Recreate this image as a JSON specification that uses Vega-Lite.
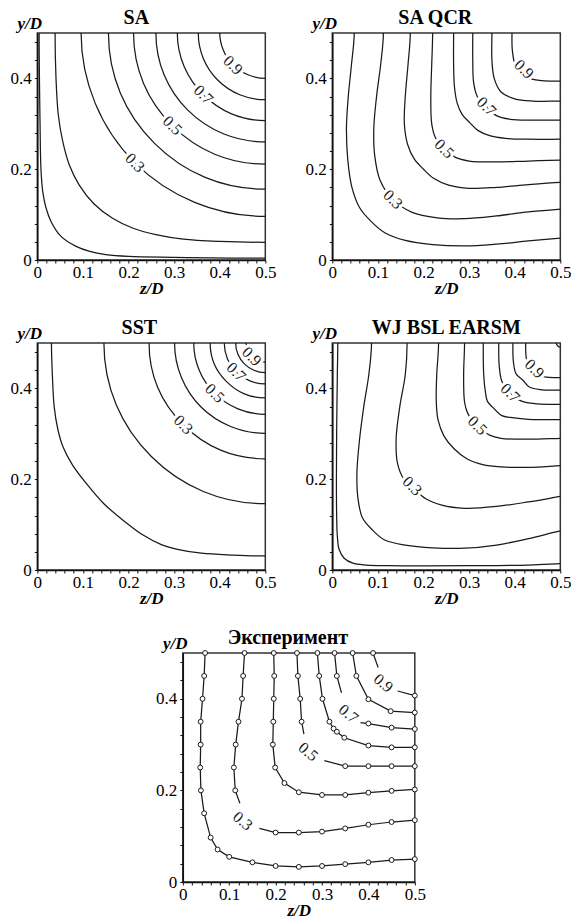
{
"$schema":"https://vega.github.io/schema/vega-lite/v6.json",
"background":"white",
"padding":{"left":9,"top":7,"right":0,"bottom":2},
"config":{
"font":"Liberation Serif",
"view":{"stroke":"#333","strokeWidth":1.5},
"axis":{"labelFont":"Liberation Serif","labelFontSize":17,"labelColor":"#000","titleFont":"Liberation Serif","titleFontSize":17,"titleFontWeight":"bold","titleFontStyle":"italic","titleColor":"#000","domainColor":"#111","domainWidth":1.5,"tickColor":"#111","tickWidth":1,"tickSize":3,"grid":false,"labelOverlap":false,"labelFlush":false,"labelPadding":1},
"axisX":{"titlePadding":0},
"axisY":{"titleAngle":0,"titleX":-8,"titleY":-5,"titleAlign":"center","titleBaseline":"alphabetic","labelPadding":3},
"title":{"font":"Liberation Serif","fontSize":20,"fontWeight":"bold","color":"#000","anchor":"middle","frame":"group","offset":-14},
"line":{"stroke":"#1a1a1a","strokeWidth":1.25}
},
"datasets":{
"lab":[
{"p":"SA","t":"0.9","z":0.429,"y":0.429},{"p":"SA","t":"0.7","z":0.364,"y":0.364},{"p":"SA","t":"0.5","z":0.296,"y":0.296},{"p":"SA","t":"0.3","z":0.214,"y":0.214},
{"p":"QCR","t":"0.9","z":0.42,"y":0.42},{"p":"QCR","t":"0.7","z":0.338,"y":0.338},{"p":"QCR","t":"0.5","z":0.245,"y":0.245},{"p":"QCR","t":"0.3","z":0.133,"y":0.133},
{"p":"SST","t":"0.9","z":0.47,"y":0.47},{"p":"SST","t":"0.7","z":0.436,"y":0.436},{"p":"SST","t":"0.5","z":0.389,"y":0.389},{"p":"SST","t":"0.3","z":0.32,"y":0.32},
{"p":"WJ","t":"0.9","z":0.443,"y":0.443},{"p":"WJ","t":"0.7","z":0.39,"y":0.39},{"p":"WJ","t":"0.5","z":0.318,"y":0.318},{"p":"WJ","t":"0.3","z":0.175,"y":0.185},
{"p":"EXP","t":"0.9","z":0.432,"y":0.434},{"p":"EXP","t":"0.7","z":0.357,"y":0.367},{"p":"EXP","t":"0.5","z":0.27,"y":0.284},{"p":"EXP","t":"0.3","z":0.129,"y":0.133}
],
"c":[
{"p":"SA","k":"0.1","i":0,"z":0.006,"y":0.7},{"p":"SA","k":"0.1","i":1,"z":0.004,"y":0.5},{"p":"SA","k":"0.1","i":2,"z":0.006,"y":0.3},{"p":"SA","k":"0.1","i":3,"z":0.008,"y":0.2},{"p":"SA","k":"0.1","i":4,"z":0.012,"y":0.15},{"p":"SA","k":"0.1","i":5,"z":0.019,"y":0.115},{"p":"SA","k":"0.1","i":6,"z":0.03,"y":0.085},{"p":"SA","k":"0.1","i":7,"z":0.052,"y":0.052},{"p":"SA","k":"0.1","i":8,"z":0.085,"y":0.03},{"p":"SA","k":"0.1","i":9,"z":0.115,"y":0.019},{"p":"SA","k":"0.1","i":10,"z":0.15,"y":0.012},{"p":"SA","k":"0.1","i":11,"z":0.2,"y":0.008},{"p":"SA","k":"0.1","i":12,"z":0.3,"y":0.006},{"p":"SA","k":"0.1","i":13,"z":0.5,"y":0.004},{"p":"SA","k":"0.1","i":14,"z":0.7,"y":0.006},
{"p":"SA","k":"0.2","i":0,"z":0.041,"y":0.6},{"p":"SA","k":"0.2","i":1,"z":0.039,"y":0.5},{"p":"SA","k":"0.2","i":2,"z":0.041,"y":0.4},{"p":"SA","k":"0.2","i":3,"z":0.046,"y":0.32},{"p":"SA","k":"0.2","i":4,"z":0.056,"y":0.26},{"p":"SA","k":"0.2","i":5,"z":0.07,"y":0.21},{"p":"SA","k":"0.2","i":6,"z":0.092,"y":0.165},{"p":"SA","k":"0.2","i":7,"z":0.124,"y":0.124},{"p":"SA","k":"0.2","i":8,"z":0.165,"y":0.092},{"p":"SA","k":"0.2","i":9,"z":0.21,"y":0.07},{"p":"SA","k":"0.2","i":10,"z":0.26,"y":0.056},{"p":"SA","k":"0.2","i":11,"z":0.32,"y":0.046},{"p":"SA","k":"0.2","i":12,"z":0.4,"y":0.041},{"p":"SA","k":"0.2","i":13,"z":0.5,"y":0.039},{"p":"SA","k":"0.2","i":14,"z":0.6,"y":0.041},
{"p":"SA","k":"0.3","i":0,"z":0.127,"y":0.655},{"p":"SA","k":"0.3","i":1,"z":0.096,"y":0.5},{"p":"SA","k":"0.3","i":2,"z":0.127,"y":0.345},{"p":"SA","k":"0.3","i":3,"z":0.214,"y":0.214},{"p":"SA","k":"0.3","i":4,"z":0.345,"y":0.127},{"p":"SA","k":"0.3","i":5,"z":0.5,"y":0.096},{"p":"SA","k":"0.3","i":6,"z":0.655,"y":0.127},
{"p":"SA","k":"0.4","i":0,"z":0.182,"y":0.632},{"p":"SA","k":"0.4","i":1,"z":0.156,"y":0.5},{"p":"SA","k":"0.4","i":2,"z":0.182,"y":0.368},{"p":"SA","k":"0.4","i":3,"z":0.257,"y":0.257},{"p":"SA","k":"0.4","i":4,"z":0.368,"y":0.182},{"p":"SA","k":"0.4","i":5,"z":0.5,"y":0.156},{"p":"SA","k":"0.4","i":6,"z":0.632,"y":0.182},
{"p":"SA","k":"0.5","i":0,"z":0.233,"y":0.611},{"p":"SA","k":"0.5","i":1,"z":0.211,"y":0.5},{"p":"SA","k":"0.5","i":2,"z":0.233,"y":0.389},{"p":"SA","k":"0.5","i":3,"z":0.296,"y":0.296},{"p":"SA","k":"0.5","i":4,"z":0.389,"y":0.233},{"p":"SA","k":"0.5","i":5,"z":0.5,"y":0.211},{"p":"SA","k":"0.5","i":6,"z":0.611,"y":0.233},
{"p":"SA","k":"0.6","i":0,"z":0.278,"y":0.592},{"p":"SA","k":"0.6","i":1,"z":0.26,"y":0.5},{"p":"SA","k":"0.6","i":2,"z":0.278,"y":0.408},{"p":"SA","k":"0.6","i":3,"z":0.33,"y":0.33},{"p":"SA","k":"0.6","i":4,"z":0.408,"y":0.278},{"p":"SA","k":"0.6","i":5,"z":0.5,"y":0.26},{"p":"SA","k":"0.6","i":6,"z":0.592,"y":0.278},
{"p":"SA","k":"0.7","i":0,"z":0.322,"y":0.574},{"p":"SA","k":"0.7","i":1,"z":0.307,"y":0.5},{"p":"SA","k":"0.7","i":2,"z":0.322,"y":0.426},{"p":"SA","k":"0.7","i":3,"z":0.364,"y":0.364},{"p":"SA","k":"0.7","i":4,"z":0.426,"y":0.322},{"p":"SA","k":"0.7","i":5,"z":0.5,"y":0.307},{"p":"SA","k":"0.7","i":6,"z":0.574,"y":0.322},
{"p":"SA","k":"0.8","i":0,"z":0.364,"y":0.556},{"p":"SA","k":"0.8","i":1,"z":0.353,"y":0.5},{"p":"SA","k":"0.8","i":2,"z":0.364,"y":0.444},{"p":"SA","k":"0.8","i":3,"z":0.396,"y":0.396},{"p":"SA","k":"0.8","i":4,"z":0.444,"y":0.364},{"p":"SA","k":"0.8","i":5,"z":0.5,"y":0.353},{"p":"SA","k":"0.8","i":6,"z":0.556,"y":0.364},
{"p":"SA","k":"0.9","i":0,"z":0.408,"y":0.538},{"p":"SA","k":"0.9","i":1,"z":0.4,"y":0.5},{"p":"SA","k":"0.9","i":2,"z":0.408,"y":0.462},{"p":"SA","k":"0.9","i":3,"z":0.429,"y":0.429},{"p":"SA","k":"0.9","i":4,"z":0.462,"y":0.408},{"p":"SA","k":"0.9","i":5,"z":0.5,"y":0.4},{"p":"SA","k":"0.9","i":6,"z":0.538,"y":0.408},

{"p":"QCR","k":"0.2","i":0,"z":0.042,"y":0.57},{"p":"QCR","k":"0.2","i":1,"z":0.048,"y":0.5},{"p":"QCR","k":"0.2","i":2,"z":0.042,"y":0.43},{"p":"QCR","k":"0.2","i":3,"z":0.035,"y":0.36},{"p":"QCR","k":"0.2","i":4,"z":0.031,"y":0.29},{"p":"QCR","k":"0.2","i":5,"z":0.034,"y":0.22},{"p":"QCR","k":"0.2","i":6,"z":0.043,"y":0.16},{"p":"QCR","k":"0.2","i":7,"z":0.06,"y":0.115},{"p":"QCR","k":"0.2","i":8,"z":0.085,"y":0.085},{"p":"QCR","k":"0.2","i":9,"z":0.115,"y":0.06},{"p":"QCR","k":"0.2","i":10,"z":0.16,"y":0.043},{"p":"QCR","k":"0.2","i":11,"z":0.22,"y":0.034},{"p":"QCR","k":"0.2","i":12,"z":0.29,"y":0.031},{"p":"QCR","k":"0.2","i":13,"z":0.36,"y":0.035},{"p":"QCR","k":"0.2","i":14,"z":0.43,"y":0.042},{"p":"QCR","k":"0.2","i":15,"z":0.5,"y":0.048},{"p":"QCR","k":"0.2","i":16,"z":0.57,"y":0.053},
{"p":"QCR","k":"0.3","i":0,"z":0.106,"y":0.57},{"p":"QCR","k":"0.3","i":1,"z":0.112,"y":0.5},{"p":"QCR","k":"0.3","i":2,"z":0.106,"y":0.43},{"p":"QCR","k":"0.3","i":3,"z":0.097,"y":0.36},{"p":"QCR","k":"0.3","i":4,"z":0.091,"y":0.29},{"p":"QCR","k":"0.3","i":5,"z":0.093,"y":0.23},{"p":"QCR","k":"0.3","i":6,"z":0.105,"y":0.175},{"p":"QCR","k":"0.3","i":7,"z":0.133,"y":0.133},{"p":"QCR","k":"0.3","i":8,"z":0.175,"y":0.105},{"p":"QCR","k":"0.3","i":9,"z":0.23,"y":0.093},{"p":"QCR","k":"0.3","i":10,"z":0.29,"y":0.091},{"p":"QCR","k":"0.3","i":11,"z":0.36,"y":0.097},{"p":"QCR","k":"0.3","i":12,"z":0.43,"y":0.106},{"p":"QCR","k":"0.3","i":13,"z":0.5,"y":0.112},{"p":"QCR","k":"0.3","i":14,"z":0.57,"y":0.117},
{"p":"QCR","k":"0.4","i":0,"z":0.166,"y":0.57},{"p":"QCR","k":"0.4","i":1,"z":0.171,"y":0.5},{"p":"QCR","k":"0.4","i":2,"z":0.166,"y":0.43},{"p":"QCR","k":"0.4","i":3,"z":0.16,"y":0.36},{"p":"QCR","k":"0.4","i":4,"z":0.158,"y":0.3},{"p":"QCR","k":"0.4","i":5,"z":0.165,"y":0.255},{"p":"QCR","k":"0.4","i":6,"z":0.18,"y":0.222},{"p":"QCR","k":"0.4","i":7,"z":0.2,"y":0.2},{"p":"QCR","k":"0.4","i":8,"z":0.222,"y":0.18},{"p":"QCR","k":"0.4","i":9,"z":0.255,"y":0.165},{"p":"QCR","k":"0.4","i":10,"z":0.3,"y":0.158},{"p":"QCR","k":"0.4","i":11,"z":0.36,"y":0.16},{"p":"QCR","k":"0.4","i":12,"z":0.43,"y":0.166},{"p":"QCR","k":"0.4","i":13,"z":0.5,"y":0.171},{"p":"QCR","k":"0.4","i":14,"z":0.57,"y":0.174},
{"p":"QCR","k":"0.5","i":0,"z":0.218,"y":0.57},{"p":"QCR","k":"0.5","i":1,"z":0.22,"y":0.5},{"p":"QCR","k":"0.5","i":2,"z":0.218,"y":0.43},{"p":"QCR","k":"0.5","i":3,"z":0.216,"y":0.36},{"p":"QCR","k":"0.5","i":4,"z":0.218,"y":0.3},{"p":"QCR","k":"0.5","i":5,"z":0.226,"y":0.27},{"p":"QCR","k":"0.5","i":6,"z":0.245,"y":0.245},{"p":"QCR","k":"0.5","i":7,"z":0.27,"y":0.226},{"p":"QCR","k":"0.5","i":8,"z":0.3,"y":0.218},{"p":"QCR","k":"0.5","i":9,"z":0.36,"y":0.216},{"p":"QCR","k":"0.5","i":10,"z":0.43,"y":0.218},{"p":"QCR","k":"0.5","i":11,"z":0.5,"y":0.22},{"p":"QCR","k":"0.5","i":12,"z":0.57,"y":0.221},
{"p":"QCR","k":"0.6","i":0,"z":0.266,"y":0.57},{"p":"QCR","k":"0.6","i":1,"z":0.266,"y":0.5},{"p":"QCR","k":"0.6","i":2,"z":0.266,"y":0.43},{"p":"QCR","k":"0.6","i":3,"z":0.268,"y":0.38},{"p":"QCR","k":"0.6","i":4,"z":0.274,"y":0.345},{"p":"QCR","k":"0.6","i":5,"z":0.285,"y":0.32},{"p":"QCR","k":"0.6","i":6,"z":0.302,"y":0.302},{"p":"QCR","k":"0.6","i":7,"z":0.32,"y":0.285},{"p":"QCR","k":"0.6","i":8,"z":0.345,"y":0.274},{"p":"QCR","k":"0.6","i":9,"z":0.38,"y":0.268},{"p":"QCR","k":"0.6","i":10,"z":0.43,"y":0.266},{"p":"QCR","k":"0.6","i":11,"z":0.5,"y":0.266},{"p":"QCR","k":"0.6","i":12,"z":0.57,"y":0.266},
{"p":"QCR","k":"0.7","i":0,"z":0.308,"y":0.56},{"p":"QCR","k":"0.7","i":1,"z":0.308,"y":0.5},{"p":"QCR","k":"0.7","i":2,"z":0.308,"y":0.44},{"p":"QCR","k":"0.7","i":3,"z":0.31,"y":0.39},{"p":"QCR","k":"0.7","i":4,"z":0.318,"y":0.36},{"p":"QCR","k":"0.7","i":5,"z":0.338,"y":0.338},{"p":"QCR","k":"0.7","i":6,"z":0.36,"y":0.318},{"p":"QCR","k":"0.7","i":7,"z":0.39,"y":0.31},{"p":"QCR","k":"0.7","i":8,"z":0.44,"y":0.308},{"p":"QCR","k":"0.7","i":9,"z":0.5,"y":0.308},{"p":"QCR","k":"0.7","i":10,"z":0.56,"y":0.308},
{"p":"QCR","k":"0.8","i":0,"z":0.35,"y":0.56},{"p":"QCR","k":"0.8","i":1,"z":0.35,"y":0.5},{"p":"QCR","k":"0.8","i":2,"z":0.35,"y":0.44},{"p":"QCR","k":"0.8","i":3,"z":0.355,"y":0.4},{"p":"QCR","k":"0.8","i":4,"z":0.37,"y":0.37},{"p":"QCR","k":"0.8","i":5,"z":0.4,"y":0.355},{"p":"QCR","k":"0.8","i":6,"z":0.44,"y":0.35},{"p":"QCR","k":"0.8","i":7,"z":0.5,"y":0.35},{"p":"QCR","k":"0.8","i":8,"z":0.56,"y":0.35},
{"p":"QCR","k":"0.9","i":0,"z":0.395,"y":0.54},{"p":"QCR","k":"0.9","i":1,"z":0.394,"y":0.5},{"p":"QCR","k":"0.9","i":2,"z":0.395,"y":0.46},{"p":"QCR","k":"0.9","i":3,"z":0.402,"y":0.43},{"p":"QCR","k":"0.9","i":4,"z":0.42,"y":0.42},{"p":"QCR","k":"0.9","i":5,"z":0.43,"y":0.402},{"p":"QCR","k":"0.9","i":6,"z":0.46,"y":0.395},{"p":"QCR","k":"0.9","i":7,"z":0.5,"y":0.394},{"p":"QCR","k":"0.9","i":8,"z":0.54,"y":0.395},

{"p":"SST","k":"0.1","i":0,"z":0.033,"y":0.57},{"p":"SST","k":"0.1","i":1,"z":0.031,"y":0.5},{"p":"SST","k":"0.1","i":2,"z":0.033,"y":0.43},{"p":"SST","k":"0.1","i":3,"z":0.037,"y":0.36},{"p":"SST","k":"0.1","i":4,"z":0.045,"y":0.31},{"p":"SST","k":"0.1","i":5,"z":0.056,"y":0.272},{"p":"SST","k":"0.1","i":6,"z":0.078,"y":0.23},{"p":"SST","k":"0.1","i":7,"z":0.108,"y":0.19},{"p":"SST","k":"0.1","i":8,"z":0.146,"y":0.146},{"p":"SST","k":"0.1","i":9,"z":0.19,"y":0.108},{"p":"SST","k":"0.1","i":10,"z":0.23,"y":0.078},{"p":"SST","k":"0.1","i":11,"z":0.272,"y":0.056},{"p":"SST","k":"0.1","i":12,"z":0.31,"y":0.045},{"p":"SST","k":"0.1","i":13,"z":0.36,"y":0.037},{"p":"SST","k":"0.1","i":14,"z":0.43,"y":0.033},{"p":"SST","k":"0.1","i":15,"z":0.5,"y":0.031},{"p":"SST","k":"0.1","i":16,"z":0.57,"y":0.033},
{"p":"SST","k":"0.2","i":0,"z":0.173,"y":0.636},{"p":"SST","k":"0.2","i":1,"z":0.146,"y":0.5},{"p":"SST","k":"0.2","i":2,"z":0.173,"y":0.364},{"p":"SST","k":"0.2","i":3,"z":0.25,"y":0.25},{"p":"SST","k":"0.2","i":4,"z":0.364,"y":0.173},{"p":"SST","k":"0.2","i":5,"z":0.5,"y":0.146},{"p":"SST","k":"0.2","i":6,"z":0.636,"y":0.173},
{"p":"SST","k":"0.3","i":0,"z":0.264,"y":0.598},{"p":"SST","k":"0.3","i":1,"z":0.245,"y":0.5},{"p":"SST","k":"0.3","i":2,"z":0.264,"y":0.402},{"p":"SST","k":"0.3","i":3,"z":0.32,"y":0.32},{"p":"SST","k":"0.3","i":4,"z":0.402,"y":0.264},{"p":"SST","k":"0.3","i":5,"z":0.5,"y":0.245},{"p":"SST","k":"0.3","i":6,"z":0.598,"y":0.264},
{"p":"SST","k":"0.4","i":0,"z":0.316,"y":0.576},{"p":"SST","k":"0.4","i":1,"z":0.301,"y":0.5},{"p":"SST","k":"0.4","i":2,"z":0.316,"y":0.424},{"p":"SST","k":"0.4","i":3,"z":0.359,"y":0.359},{"p":"SST","k":"0.4","i":4,"z":0.424,"y":0.316},{"p":"SST","k":"0.4","i":5,"z":0.5,"y":0.301},{"p":"SST","k":"0.4","i":6,"z":0.576,"y":0.316},
{"p":"SST","k":"0.5","i":0,"z":0.355,"y":0.56},{"p":"SST","k":"0.5","i":1,"z":0.343,"y":0.5},{"p":"SST","k":"0.5","i":2,"z":0.355,"y":0.44},{"p":"SST","k":"0.5","i":3,"z":0.389,"y":0.389},{"p":"SST","k":"0.5","i":4,"z":0.44,"y":0.355},{"p":"SST","k":"0.5","i":5,"z":0.5,"y":0.343},{"p":"SST","k":"0.5","i":6,"z":0.56,"y":0.355},
{"p":"SST","k":"0.6","i":0,"z":0.388,"y":0.546},{"p":"SST","k":"0.6","i":1,"z":0.379,"y":0.5},{"p":"SST","k":"0.6","i":2,"z":0.388,"y":0.454},{"p":"SST","k":"0.6","i":3,"z":0.415,"y":0.415},{"p":"SST","k":"0.6","i":4,"z":0.454,"y":0.388},{"p":"SST","k":"0.6","i":5,"z":0.5,"y":0.379},{"p":"SST","k":"0.6","i":6,"z":0.546,"y":0.388},
{"p":"SST","k":"0.7","i":0,"z":0.417,"y":0.535},{"p":"SST","k":"0.7","i":1,"z":0.41,"y":0.5},{"p":"SST","k":"0.7","i":2,"z":0.417,"y":0.465},{"p":"SST","k":"0.7","i":3,"z":0.436,"y":0.436},{"p":"SST","k":"0.7","i":4,"z":0.465,"y":0.417},{"p":"SST","k":"0.7","i":5,"z":0.5,"y":0.41},{"p":"SST","k":"0.7","i":6,"z":0.535,"y":0.417},
{"p":"SST","k":"0.8","i":0,"z":0.44,"y":0.525},{"p":"SST","k":"0.8","i":1,"z":0.435,"y":0.5},{"p":"SST","k":"0.8","i":2,"z":0.44,"y":0.475},{"p":"SST","k":"0.8","i":3,"z":0.454,"y":0.454},{"p":"SST","k":"0.8","i":4,"z":0.475,"y":0.44},{"p":"SST","k":"0.8","i":5,"z":0.5,"y":0.435},{"p":"SST","k":"0.8","i":6,"z":0.525,"y":0.44},
{"p":"SST","k":"0.9","i":0,"z":0.461,"y":0.516},{"p":"SST","k":"0.9","i":1,"z":0.458,"y":0.5},{"p":"SST","k":"0.9","i":2,"z":0.461,"y":0.484},{"p":"SST","k":"0.9","i":3,"z":0.47,"y":0.47},{"p":"SST","k":"0.9","i":4,"z":0.484,"y":0.461},{"p":"SST","k":"0.9","i":5,"z":0.5,"y":0.458},{"p":"SST","k":"0.9","i":6,"z":0.516,"y":0.461},

{"p":"WJ","k":"0.1","i":0,"z":0.011,"y":0.57},{"p":"WJ","k":"0.1","i":1,"z":0.012,"y":0.5},{"p":"WJ","k":"0.1","i":2,"z":0.011,"y":0.43},{"p":"WJ","k":"0.1","i":3,"z":0.0095,"y":0.3},{"p":"WJ","k":"0.1","i":4,"z":0.009,"y":0.2},{"p":"WJ","k":"0.1","i":5,"z":0.0095,"y":0.12},{"p":"WJ","k":"0.1","i":6,"z":0.011,"y":0.075},{"p":"WJ","k":"0.1","i":7,"z":0.015,"y":0.045},{"p":"WJ","k":"0.1","i":8,"z":0.026,"y":0.026},{"p":"WJ","k":"0.1","i":9,"z":0.045,"y":0.015},{"p":"WJ","k":"0.1","i":10,"z":0.075,"y":0.011},{"p":"WJ","k":"0.1","i":11,"z":0.12,"y":0.0095},{"p":"WJ","k":"0.1","i":12,"z":0.2,"y":0.009},{"p":"WJ","k":"0.1","i":13,"z":0.3,"y":0.0095},{"p":"WJ","k":"0.1","i":14,"z":0.43,"y":0.011},{"p":"WJ","k":"0.1","i":15,"z":0.5,"y":0.014},{"p":"WJ","k":"0.1","i":16,"z":0.57,"y":0.017},
{"p":"WJ","k":"0.2","i":0,"z":0.08,"y":0.57},{"p":"WJ","k":"0.2","i":1,"z":0.086,"y":0.5},{"p":"WJ","k":"0.2","i":2,"z":0.08,"y":0.43},{"p":"WJ","k":"0.2","i":3,"z":0.069,"y":0.36},{"p":"WJ","k":"0.2","i":4,"z":0.06,"y":0.29},{"p":"WJ","k":"0.2","i":5,"z":0.054,"y":0.215},{"p":"WJ","k":"0.2","i":6,"z":0.056,"y":0.16},{"p":"WJ","k":"0.2","i":7,"z":0.066,"y":0.115},{"p":"WJ","k":"0.2","i":8,"z":0.088,"y":0.088},{"p":"WJ","k":"0.2","i":9,"z":0.115,"y":0.066},{"p":"WJ","k":"0.2","i":10,"z":0.16,"y":0.055},{"p":"WJ","k":"0.2","i":11,"z":0.22,"y":0.049},{"p":"WJ","k":"0.2","i":12,"z":0.29,"y":0.048},{"p":"WJ","k":"0.2","i":13,"z":0.36,"y":0.055},{"p":"WJ","k":"0.2","i":14,"z":0.43,"y":0.069},{"p":"WJ","k":"0.2","i":15,"z":0.5,"y":0.086},{"p":"WJ","k":"0.2","i":16,"z":0.57,"y":0.1},
{"p":"WJ","k":"0.3","i":0,"z":0.16,"y":0.57},{"p":"WJ","k":"0.3","i":1,"z":0.164,"y":0.5},{"p":"WJ","k":"0.3","i":2,"z":0.16,"y":0.43},{"p":"WJ","k":"0.3","i":3,"z":0.148,"y":0.36},{"p":"WJ","k":"0.3","i":4,"z":0.14,"y":0.29},{"p":"WJ","k":"0.3","i":5,"z":0.143,"y":0.235},{"p":"WJ","k":"0.3","i":6,"z":0.157,"y":0.2},{"p":"WJ","k":"0.3","i":7,"z":0.18,"y":0.178},{"p":"WJ","k":"0.3","i":8,"z":0.205,"y":0.157},{"p":"WJ","k":"0.3","i":9,"z":0.24,"y":0.143},{"p":"WJ","k":"0.3","i":10,"z":0.29,"y":0.136},{"p":"WJ","k":"0.3","i":11,"z":0.36,"y":0.14},{"p":"WJ","k":"0.3","i":12,"z":0.43,"y":0.15},{"p":"WJ","k":"0.3","i":13,"z":0.5,"y":0.162},{"p":"WJ","k":"0.3","i":14,"z":0.57,"y":0.174},
{"p":"WJ","k":"0.4","i":0,"z":0.229,"y":0.57},{"p":"WJ","k":"0.4","i":1,"z":0.233,"y":0.5},{"p":"WJ","k":"0.4","i":2,"z":0.229,"y":0.43},{"p":"WJ","k":"0.4","i":3,"z":0.228,"y":0.37},{"p":"WJ","k":"0.4","i":4,"z":0.232,"y":0.33},{"p":"WJ","k":"0.4","i":5,"z":0.245,"y":0.295},{"p":"WJ","k":"0.4","i":6,"z":0.267,"y":0.267},{"p":"WJ","k":"0.4","i":7,"z":0.295,"y":0.245},{"p":"WJ","k":"0.4","i":8,"z":0.33,"y":0.232},{"p":"WJ","k":"0.4","i":9,"z":0.37,"y":0.227},{"p":"WJ","k":"0.4","i":10,"z":0.43,"y":0.226},{"p":"WJ","k":"0.4","i":11,"z":0.5,"y":0.23},{"p":"WJ","k":"0.4","i":12,"z":0.57,"y":0.234},
{"p":"WJ","k":"0.5","i":0,"z":0.288,"y":0.57},{"p":"WJ","k":"0.5","i":1,"z":0.29,"y":0.5},{"p":"WJ","k":"0.5","i":2,"z":0.288,"y":0.43},{"p":"WJ","k":"0.5","i":3,"z":0.29,"y":0.37},{"p":"WJ","k":"0.5","i":4,"z":0.297,"y":0.345},{"p":"WJ","k":"0.5","i":5,"z":0.318,"y":0.318},{"p":"WJ","k":"0.5","i":6,"z":0.345,"y":0.297},{"p":"WJ","k":"0.5","i":7,"z":0.37,"y":0.29},{"p":"WJ","k":"0.5","i":8,"z":0.43,"y":0.288},{"p":"WJ","k":"0.5","i":9,"z":0.5,"y":0.29},{"p":"WJ","k":"0.5","i":10,"z":0.57,"y":0.292},
{"p":"WJ","k":"0.6","i":0,"z":0.332,"y":0.57},{"p":"WJ","k":"0.6","i":1,"z":0.331,"y":0.5},{"p":"WJ","k":"0.6","i":2,"z":0.332,"y":0.43},{"p":"WJ","k":"0.6","i":3,"z":0.336,"y":0.39},{"p":"WJ","k":"0.6","i":4,"z":0.34,"y":0.372},{"p":"WJ","k":"0.6","i":5,"z":0.355,"y":0.355},{"p":"WJ","k":"0.6","i":6,"z":0.372,"y":0.34},{"p":"WJ","k":"0.6","i":7,"z":0.39,"y":0.336},{"p":"WJ","k":"0.6","i":8,"z":0.43,"y":0.332},{"p":"WJ","k":"0.6","i":9,"z":0.5,"y":0.331},{"p":"WJ","k":"0.6","i":10,"z":0.57,"y":0.332},
{"p":"WJ","k":"0.7","i":0,"z":0.366,"y":0.55},{"p":"WJ","k":"0.7","i":1,"z":0.365,"y":0.5},{"p":"WJ","k":"0.7","i":2,"z":0.366,"y":0.45},{"p":"WJ","k":"0.7","i":3,"z":0.372,"y":0.415},{"p":"WJ","k":"0.7","i":4,"z":0.39,"y":0.39},{"p":"WJ","k":"0.7","i":5,"z":0.415,"y":0.372},{"p":"WJ","k":"0.7","i":6,"z":0.45,"y":0.366},{"p":"WJ","k":"0.7","i":7,"z":0.5,"y":0.365},{"p":"WJ","k":"0.7","i":8,"z":0.55,"y":0.366},
{"p":"WJ","k":"0.8","i":0,"z":0.397,"y":0.54},{"p":"WJ","k":"0.8","i":1,"z":0.396,"y":0.5},{"p":"WJ","k":"0.8","i":2,"z":0.397,"y":0.46},{"p":"WJ","k":"0.8","i":3,"z":0.403,"y":0.432},{"p":"WJ","k":"0.8","i":4,"z":0.418,"y":0.418},{"p":"WJ","k":"0.8","i":5,"z":0.432,"y":0.403},{"p":"WJ","k":"0.8","i":6,"z":0.46,"y":0.397},{"p":"WJ","k":"0.8","i":7,"z":0.5,"y":0.396},{"p":"WJ","k":"0.8","i":8,"z":0.54,"y":0.397},
{"p":"WJ","k":"0.9","i":0,"z":0.425,"y":0.53},{"p":"WJ","k":"0.9","i":1,"z":0.424,"y":0.5},{"p":"WJ","k":"0.9","i":2,"z":0.425,"y":0.47},{"p":"WJ","k":"0.9","i":3,"z":0.43,"y":0.45},{"p":"WJ","k":"0.9","i":4,"z":0.443,"y":0.443},{"p":"WJ","k":"0.9","i":5,"z":0.45,"y":0.43},{"p":"WJ","k":"0.9","i":6,"z":0.47,"y":0.425},{"p":"WJ","k":"0.9","i":7,"z":0.5,"y":0.424},{"p":"WJ","k":"0.9","i":8,"z":0.53,"y":0.425},
{"p":"WJ","k":"1.0","i":0,"z":0.494,"y":0.506},{"p":"WJ","k":"1.0","i":1,"z":0.491,"y":0.5},{"p":"WJ","k":"1.0","i":2,"z":0.494,"y":0.494},{"p":"WJ","k":"1.0","i":3,"z":0.5,"y":0.491},{"p":"WJ","k":"1.0","i":4,"z":0.506,"y":0.494},

{"p":"EXP","k":"0.2","i":0,"m":1,"z":0.048,"y":0.5},{"p":"EXP","k":"0.2","i":1,"m":1,"z":0.046,"y":0.45},{"p":"EXP","k":"0.2","i":2,"m":1,"z":0.0425,"y":0.4},{"p":"EXP","k":"0.2","i":3,"m":1,"z":0.0385,"y":0.35},{"p":"EXP","k":"0.2","i":4,"m":1,"z":0.0385,"y":0.3},{"p":"EXP","k":"0.2","i":5,"m":1,"z":0.0375,"y":0.25},{"p":"EXP","k":"0.2","i":6,"m":1,"z":0.039,"y":0.2},{"p":"EXP","k":"0.2","i":7,"m":1,"z":0.046,"y":0.15},{"p":"EXP","k":"0.2","i":8,"m":1,"z":0.06,"y":0.097},{"p":"EXP","k":"0.2","i":9,"m":1,"z":0.075,"y":0.071},{"p":"EXP","k":"0.2","i":10,"m":1,"z":0.1,"y":0.055},{"p":"EXP","k":"0.2","i":11,"m":1,"z":0.15,"y":0.043},{"p":"EXP","k":"0.2","i":12,"m":1,"z":0.2,"y":0.035},{"p":"EXP","k":"0.2","i":13,"m":1,"z":0.25,"y":0.033},{"p":"EXP","k":"0.2","i":14,"m":1,"z":0.3,"y":0.035},{"p":"EXP","k":"0.2","i":15,"m":1,"z":0.35,"y":0.039},{"p":"EXP","k":"0.2","i":16,"m":1,"z":0.4,"y":0.043},{"p":"EXP","k":"0.2","i":17,"m":1,"z":0.45,"y":0.048},{"p":"EXP","k":"0.2","i":18,"m":1,"z":0.5,"y":0.05},
{"p":"EXP","k":"0.3a","i":0,"m":1,"z":0.133,"y":0.5},{"p":"EXP","k":"0.3a","i":1,"m":1,"z":0.13,"y":0.45},{"p":"EXP","k":"0.3a","i":2,"m":1,"z":0.1275,"y":0.4},{"p":"EXP","k":"0.3a","i":3,"m":1,"z":0.12,"y":0.35},{"p":"EXP","k":"0.3a","i":4,"m":1,"z":0.114,"y":0.3},{"p":"EXP","k":"0.3a","i":5,"m":1,"z":0.11,"y":0.25},{"p":"EXP","k":"0.3a","i":6,"m":1,"z":0.113,"y":0.2},{"p":"EXP","k":"0.3a","i":7,"m":0,"z":0.123,"y":0.172},
{"p":"EXP","k":"0.3b","i":0,"m":0,"z":0.165,"y":0.117},{"p":"EXP","k":"0.3b","i":1,"m":1,"z":0.2,"y":0.108},{"p":"EXP","k":"0.3b","i":2,"m":1,"z":0.25,"y":0.108},{"p":"EXP","k":"0.3b","i":3,"m":1,"z":0.3,"y":0.11},{"p":"EXP","k":"0.3b","i":4,"m":1,"z":0.35,"y":0.117},{"p":"EXP","k":"0.3b","i":5,"m":1,"z":0.4,"y":0.125},{"p":"EXP","k":"0.3b","i":6,"m":1,"z":0.45,"y":0.131},{"p":"EXP","k":"0.3b","i":7,"m":1,"z":0.5,"y":0.135},
{"p":"EXP","k":"0.4","i":0,"m":1,"z":0.196,"y":0.5},{"p":"EXP","k":"0.4","i":1,"m":1,"z":0.197,"y":0.45},{"p":"EXP","k":"0.4","i":2,"m":1,"z":0.196,"y":0.4},{"p":"EXP","k":"0.4","i":3,"m":1,"z":0.195,"y":0.35},{"p":"EXP","k":"0.4","i":4,"m":1,"z":0.194,"y":0.3},{"p":"EXP","k":"0.4","i":5,"m":1,"z":0.199,"y":0.25},{"p":"EXP","k":"0.4","i":6,"m":1,"z":0.219,"y":0.216},{"p":"EXP","k":"0.4","i":7,"m":1,"z":0.25,"y":0.196},{"p":"EXP","k":"0.4","i":8,"m":1,"z":0.3,"y":0.19},{"p":"EXP","k":"0.4","i":9,"m":1,"z":0.35,"y":0.19},{"p":"EXP","k":"0.4","i":10,"m":1,"z":0.4,"y":0.195},{"p":"EXP","k":"0.4","i":11,"m":1,"z":0.45,"y":0.199},{"p":"EXP","k":"0.4","i":12,"m":1,"z":0.5,"y":0.202},
{"p":"EXP","k":"0.5a","i":0,"m":1,"z":0.246,"y":0.5},{"p":"EXP","k":"0.5a","i":1,"m":1,"z":0.248,"y":0.45},{"p":"EXP","k":"0.5a","i":2,"m":1,"z":0.253,"y":0.4},{"p":"EXP","k":"0.5a","i":3,"m":1,"z":0.256,"y":0.35},{"p":"EXP","k":"0.5a","i":4,"m":0,"z":0.261,"y":0.323},
{"p":"EXP","k":"0.5b","i":0,"m":0,"z":0.305,"y":0.265},{"p":"EXP","k":"0.5b","i":1,"m":1,"z":0.35,"y":0.253},{"p":"EXP","k":"0.5b","i":2,"m":1,"z":0.4,"y":0.253},{"p":"EXP","k":"0.5b","i":3,"m":1,"z":0.45,"y":0.253},{"p":"EXP","k":"0.5b","i":4,"m":1,"z":0.5,"y":0.253},
{"p":"EXP","k":"0.6","i":0,"m":1,"z":0.29,"y":0.5},{"p":"EXP","k":"0.6","i":1,"m":1,"z":0.294,"y":0.45},{"p":"EXP","k":"0.6","i":2,"m":1,"z":0.301,"y":0.4},{"p":"EXP","k":"0.6","i":3,"m":1,"z":0.316,"y":0.35},{"p":"EXP","k":"0.6","i":4,"m":1,"z":0.325,"y":0.335},{"p":"EXP","k":"0.6","i":5,"m":1,"z":0.332,"y":0.328},{"p":"EXP","k":"0.6","i":6,"m":1,"z":0.348,"y":0.315},{"p":"EXP","k":"0.6","i":7,"m":1,"z":0.4,"y":0.298},{"p":"EXP","k":"0.6","i":8,"m":1,"z":0.45,"y":0.294},{"p":"EXP","k":"0.6","i":9,"m":1,"z":0.5,"y":0.294},
{"p":"EXP","k":"0.7a","i":0,"m":1,"z":0.327,"y":0.5},{"p":"EXP","k":"0.7a","i":1,"m":1,"z":0.332,"y":0.45},{"p":"EXP","k":"0.7a","i":2,"m":0,"z":0.342,"y":0.413},
{"p":"EXP","k":"0.7b","i":0,"m":0,"z":0.383,"y":0.348},{"p":"EXP","k":"0.7b","i":1,"m":1,"z":0.4,"y":0.346},{"p":"EXP","k":"0.7b","i":2,"m":1,"z":0.45,"y":0.337},{"p":"EXP","k":"0.7b","i":3,"m":1,"z":0.5,"y":0.334},
{"p":"EXP","k":"0.8","i":0,"m":1,"z":0.366,"y":0.5},{"p":"EXP","k":"0.8","i":1,"m":1,"z":0.374,"y":0.45},{"p":"EXP","k":"0.8","i":2,"m":1,"z":0.4,"y":0.399},{"p":"EXP","k":"0.8","i":3,"m":1,"z":0.448,"y":0.373},{"p":"EXP","k":"0.8","i":4,"m":1,"z":0.5,"y":0.37},
{"p":"EXP","k":"0.9a","i":0,"m":1,"z":0.41,"y":0.5},{"p":"EXP","k":"0.9a","i":1,"m":0,"z":0.421,"y":0.468},
{"p":"EXP","k":"0.9b","i":0,"m":0,"z":0.463,"y":0.417},{"p":"EXP","k":"0.9b","i":1,"m":1,"z":0.5,"y":0.407}
]
},
"spacing":20,
"center":true,
"vconcat":[
{"spacing":27,"hconcat":[
{"width":228,"height":227,"title":{"text":"SA","dx":-15},
"encoding":{
"x":{"field":"z","type":"quantitative","scale":{"domain":[0,0.5],"nice":false,"zero":false},"axis":{"title":"z/D","values":[0,0.02,0.04,0.06,0.08,0.1,0.12,0.14,0.16,0.18,0.2,0.22,0.24,0.26,0.28,0.3,0.32,0.34,0.36,0.38,0.4,0.42,0.44,0.46,0.48,0.5],"labelExpr":"round(datum.value*100) % 10 === 0 ? (datum.value === 0 ? '0' : format(datum.value, '.1f')) : ''"}},
"y":{"field":"y","type":"quantitative","scale":{"domain":[0,0.5],"nice":false,"zero":false},"axis":{"title":"y/D","values":[0,0.04,0.08,0.12,0.16,0.2,0.24,0.28,0.32,0.36,0.4,0.44,0.48],"labelExpr":"round(datum.value*100) % 20 === 0 ? (datum.value === 0 ? '0' : format(datum.value, '.1f')) : ''"}}},
"layer":[
{"data":{"name":"c"},"transform":[{"filter":"datum.p === 'SA'"}],"mark":{"type":"line","interpolate":"catmull-rom","clip":true},"encoding":{"detail":{"field":"k"},"order":{"field":"i","type":"quantitative"}}},
{"data":{"name":"lab"},"transform":[{"filter":"datum.p === 'SA'"}],"mark":{"type":"text","angle":45,"font":"Liberation Serif","fontSize":16,"fill":"white","stroke":"white","strokeWidth":6,"strokeJoin":"round"},"encoding":{"text":{"field":"t"}}},
{"data":{"name":"lab"},"transform":[{"filter":"datum.p === 'SA'"}],"mark":{"type":"text","angle":45,"font":"Liberation Serif","fontSize":16,"fill":"#1a1a1a"},"encoding":{"text":{"field":"t"}}}
]},
{"width":228,"height":227,"title":{"text":"SA QCR","dx":-11},
"encoding":{
"x":{"field":"z","type":"quantitative","scale":{"domain":[0,0.5],"nice":false,"zero":false},"axis":{"title":"z/D","values":[0,0.02,0.04,0.06,0.08,0.1,0.12,0.14,0.16,0.18,0.2,0.22,0.24,0.26,0.28,0.3,0.32,0.34,0.36,0.38,0.4,0.42,0.44,0.46,0.48,0.5],"labelExpr":"round(datum.value*100) % 10 === 0 ? (datum.value === 0 ? '0' : format(datum.value, '.1f')) : ''"}},
"y":{"field":"y","type":"quantitative","scale":{"domain":[0,0.5],"nice":false,"zero":false},"axis":{"title":"y/D","values":[0,0.04,0.08,0.12,0.16,0.2,0.24,0.28,0.32,0.36,0.4,0.44,0.48],"labelExpr":"round(datum.value*100) % 20 === 0 ? (datum.value === 0 ? '0' : format(datum.value, '.1f')) : ''"}}},
"layer":[
{"data":{"name":"c"},"transform":[{"filter":"datum.p === 'QCR'"}],"mark":{"type":"line","interpolate":"catmull-rom","clip":true},"encoding":{"detail":{"field":"k"},"order":{"field":"i","type":"quantitative"}}},
{"data":{"name":"lab"},"transform":[{"filter":"datum.p === 'QCR'"}],"mark":{"type":"text","angle":45,"font":"Liberation Serif","fontSize":16,"fill":"white","stroke":"white","strokeWidth":6,"strokeJoin":"round"},"encoding":{"text":{"field":"t"}}},
{"data":{"name":"lab"},"transform":[{"filter":"datum.p === 'QCR'"}],"mark":{"type":"text","angle":45,"font":"Liberation Serif","fontSize":16,"fill":"#1a1a1a"},"encoding":{"text":{"field":"t"}}}
]}
]},
{"spacing":27,"hconcat":[
{"width":228,"height":227,"title":{"text":"SST","dx":-12},
"encoding":{
"x":{"field":"z","type":"quantitative","scale":{"domain":[0,0.5],"nice":false,"zero":false},"axis":{"title":"z/D","values":[0,0.02,0.04,0.06,0.08,0.1,0.12,0.14,0.16,0.18,0.2,0.22,0.24,0.26,0.28,0.3,0.32,0.34,0.36,0.38,0.4,0.42,0.44,0.46,0.48,0.5],"labelExpr":"round(datum.value*100) % 10 === 0 ? (datum.value === 0 ? '0' : format(datum.value, '.1f')) : ''"}},
"y":{"field":"y","type":"quantitative","scale":{"domain":[0,0.5],"nice":false,"zero":false},"axis":{"title":"y/D","values":[0,0.04,0.08,0.12,0.16,0.2,0.24,0.28,0.32,0.36,0.4,0.44,0.48],"labelExpr":"round(datum.value*100) % 20 === 0 ? (datum.value === 0 ? '0' : format(datum.value, '.1f')) : ''"}}},
"layer":[
{"data":{"name":"c"},"transform":[{"filter":"datum.p === 'SST'"}],"mark":{"type":"line","interpolate":"catmull-rom","clip":true},"encoding":{"detail":{"field":"k"},"order":{"field":"i","type":"quantitative"}}},
{"data":{"name":"lab"},"transform":[{"filter":"datum.p === 'SST'"}],"mark":{"type":"text","angle":45,"font":"Liberation Serif","fontSize":16,"fill":"white","stroke":"white","strokeWidth":6,"strokeJoin":"round"},"encoding":{"text":{"field":"t"}}},
{"data":{"name":"lab"},"transform":[{"filter":"datum.p === 'SST'"}],"mark":{"type":"text","angle":45,"font":"Liberation Serif","fontSize":16,"fill":"#1a1a1a"},"encoding":{"text":{"field":"t"}}}
]},
{"width":228,"height":227,"title":{"text":"WJ BSL EARSM","dx":0},
"encoding":{
"x":{"field":"z","type":"quantitative","scale":{"domain":[0,0.5],"nice":false,"zero":false},"axis":{"title":"z/D","values":[0,0.02,0.04,0.06,0.08,0.1,0.12,0.14,0.16,0.18,0.2,0.22,0.24,0.26,0.28,0.3,0.32,0.34,0.36,0.38,0.4,0.42,0.44,0.46,0.48,0.5],"labelExpr":"round(datum.value*100) % 10 === 0 ? (datum.value === 0 ? '0' : format(datum.value, '.1f')) : ''"}},
"y":{"field":"y","type":"quantitative","scale":{"domain":[0,0.5],"nice":false,"zero":false},"axis":{"title":"y/D","values":[0,0.04,0.08,0.12,0.16,0.2,0.24,0.28,0.32,0.36,0.4,0.44,0.48],"labelExpr":"round(datum.value*100) % 20 === 0 ? (datum.value === 0 ? '0' : format(datum.value, '.1f')) : ''"}}},
"layer":[
{"data":{"name":"c"},"transform":[{"filter":"datum.p === 'WJ'"}],"mark":{"type":"line","interpolate":"catmull-rom","clip":true},"encoding":{"detail":{"field":"k"},"order":{"field":"i","type":"quantitative"}}},
{"data":{"name":"lab"},"transform":[{"filter":"datum.p === 'WJ'"}],"mark":{"type":"text","angle":45,"font":"Liberation Serif","fontSize":16,"fill":"white","stroke":"white","strokeWidth":6,"strokeJoin":"round"},"encoding":{"text":{"field":"t"}}},
{"data":{"name":"lab"},"transform":[{"filter":"datum.p === 'WJ'"}],"mark":{"type":"text","angle":45,"font":"Liberation Serif","fontSize":16,"fill":"#1a1a1a"},"encoding":{"text":{"field":"t"}}}
]}
]},
{"width":232,"height":229,"title":{"text":"Эксперимент","dx":-11},
"encoding":{
"x":{"field":"z","type":"quantitative","scale":{"domain":[0,0.5],"nice":false,"zero":false},"axis":{"title":"z/D","values":[0,0.02,0.04,0.06,0.08,0.1,0.12,0.14,0.16,0.18,0.2,0.22,0.24,0.26,0.28,0.3,0.32,0.34,0.36,0.38,0.4,0.42,0.44,0.46,0.48,0.5],"labelExpr":"round(datum.value*100) % 10 === 0 ? (datum.value === 0 ? '0' : format(datum.value, '.1f')) : ''"}},
"y":{"field":"y","type":"quantitative","scale":{"domain":[0,0.5],"nice":false,"zero":false},"axis":{"title":"y/D","values":[0,0.04,0.08,0.12,0.16,0.2,0.24,0.28,0.32,0.36,0.4,0.44,0.48],"labelExpr":"round(datum.value*100) % 20 === 0 ? (datum.value === 0 ? '0' : format(datum.value, '.1f')) : ''"}}},
"layer":[
{"data":{"name":"c"},"transform":[{"filter":"datum.p === 'EXP'"}],"mark":{"type":"line","interpolate":"linear","clip":true},"encoding":{"detail":{"field":"k"},"order":{"field":"i","type":"quantitative"}}},
{"data":{"name":"c"},"transform":[{"filter":"datum.p === 'EXP' && datum.m === 1"}],"mark":{"type":"point","shape":"circle","filled":true,"fill":"white","stroke":"#1a1a1a","strokeWidth":1,"size":24,"opacity":1},"encoding":{}},
{"data":{"name":"lab"},"transform":[{"filter":"datum.p === 'EXP'"}],"mark":{"type":"text","angle":40,"font":"Liberation Serif","fontSize":16,"fill":"#1a1a1a"},"encoding":{"text":{"field":"t"}}}
]}
]
}
